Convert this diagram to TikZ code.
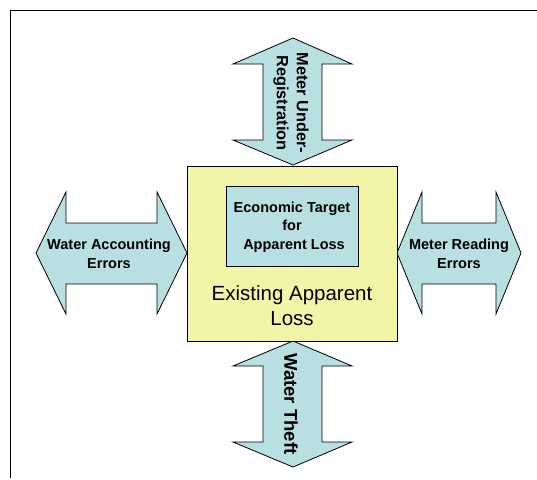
\documentclass[tikz,border=0pt]{standalone}
\usepackage{fontspec}
\setmainfont{Liberation Sans}
\definecolor{arrowblue}{RGB}{184,224,226}
\definecolor{lossyellow}{RGB}{242,244,168}
\tikzset{
  arrowshape/.style={draw=black, fill=arrowblue, line width=0.8pt, line join=miter},
  boxshape/.style={draw=black, line width=0.8pt},
  lbl/.style={font=\bfseries\fontsize{14.5}{18.5}\selectfont, align=center, inner sep=0pt},
}
\begin{document}
\begin{tikzpicture}[x=1pt,y=-1pt]
\useasboundingbox (0,0) rectangle (537,479);
% frame
\draw[line width=1pt] (10.5,478) -- (10.5,10.5) -- (537,10.5);
% top arrow
\draw[arrowshape] (293,38) -- (352,64) -- (322,64) -- (322,140) -- (352,140) -- (293,165)
  -- (233,140) -- (263,140) -- (263,64) -- (233,64) -- cycle;
% bottom arrow
\draw[arrowshape] (293,341) -- (352,366) -- (322,366) -- (322,442) -- (352,442) -- (293,467)
  -- (233,442) -- (263,442) -- (263,366) -- (233,366) -- cycle;
% left arrow
\draw[arrowshape] (36,253) -- (66,192) -- (66,223) -- (157,223) -- (157,192) -- (187,253)
  -- (157,314) -- (157,284) -- (66,284) -- (66,314) -- cycle;
% right arrow
\draw[arrowshape] (397,253) -- (422,192) -- (422,223) -- (496,223) -- (496,192) -- (521,253)
  -- (496,314) -- (496,284) -- (422,284) -- (422,314) -- cycle;
% main box
\node[boxshape, fill=lossyellow, minimum width=210pt, minimum height=175pt, inner sep=0pt] (main) at (292,253.5) {};
\node[boxshape, fill=arrowblue, minimum width=132pt, minimum height=80pt, inner sep=0pt] (target) at (292,226) {};
\node[lbl] (targettxt) at (292,227) {Economic Target\\for\\\ Apparent Loss};
\node[font=\fontsize{20.5}{25}\selectfont, align=center, inner sep=0pt] (existing) at (292,306) {Existing Apparent\\Loss};
% labels
\node[lbl] (wae) at (109,254) {Water Accounting\\Errors};
\node[lbl] (mre) at (459,254) {Meter Reading\\Errors};
\node[lbl, font=\bfseries\fontsize{18.5}{22}\selectfont, rotate=-90] (theft) at (291,404) {Water Theft};
\node[lbl, font=\bfseries\fontsize{16.3}{20}\selectfont, rotate=-90] (mur) at (291,103) {Meter Under-\\Registration};
\end{tikzpicture}
\end{document}
